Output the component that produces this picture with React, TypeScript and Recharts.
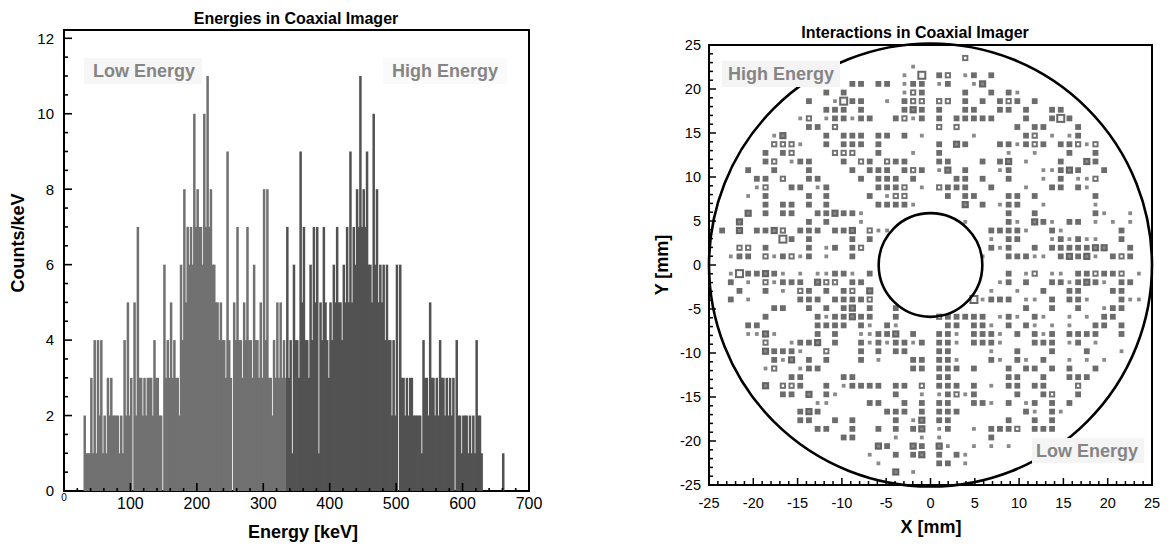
import React from 'react';
import {
  BarChart, Bar, XAxis, YAxis, ReferenceArea,
  ScatterChart, Scatter, ReferenceDot,
} from 'recharts';

const FONT = '"Liberation Sans", Arial, Helvetica, sans-serif';

/* ---------------- Left panel: energy histogram ---------------- */
const BIN_START_KEV = 30;
const BIN_WIDTH_KEV = 5;
// tallest count in each 5 keV bin (spikes)
const PEAK_COUNTS = [
  2, 1, 3, 4, 4, 4, 2, 3, 3, 2,
  2, 2, 4, 5, 3, 5, 7, 3, 3, 3,
  3, 4, 3, 2, 6, 4, 5, 4, 3, 6,
  8, 7, 7, 10, 8, 7, 10, 11, 8, 6,
  5, 5, 4, 9, 3, 5, 7, 4, 5, 7,
  4, 6, 4, 5, 8, 8, 3, 4, 5, 5,
  4, 7, 4, 6, 4, 9, 7, 4, 6, 7,
  7, 5, 7, 4, 5, 6, 7, 5, 6, 7,
  9, 7, 8, 11, 8, 9, 6, 10, 8, 6,
  6, 6, 4, 4, 6, 6, 3, 3, 3, 2,
  2, 2, 4, 3, 5, 3, 3, 4, 3, 3,
  3, 3, 4, 2, 2, 2, 2, 2, 4, 2,
  0, 0, 0, 0, 0, 0, 1,
];
// dense fill level in each 5 keV bin
const BASE_COUNTS = [
  1, 1, 1, 1, 2, 1, 1, 2, 2, 2,
  1, 1, 2, 2, 0, 2, 3, 2, 2, 3,
  2, 3, 2, 0, 3, 3, 3, 3, 2, 4,
  5, 6, 6, 7, 7, 6, 7, 7, 6, 5,
  4, 4, 3, 4, 0, 4, 4, 3, 4, 4,
  3, 4, 3, 3, 4, 3, 2, 3, 3, 3,
  3, 3, 1, 4, 3, 5, 4, 3, 4, 5,
  1, 4, 5, 3, 4, 5, 5, 4, 5, 5,
  5, 6, 7, 7, 7, 6, 5, 6, 5, 5,
  4, 4, 2, 2, 0, 3, 2, 2, 3, 2,
  2, 1, 3, 2, 3, 2, 2, 3, 2, 2,
  2, 0, 2, 1, 2, 1, 1, 1, 2, 1,
  0, 0, 0, 0, 0, 0, 0,
];
const ENERGY_TICKS = [
  0, 20, 40, 60, 80, 100, 120, 140, 160, 180, 200, 220, 240, 260, 280, 300,
  320, 340, 360, 380, 400, 420, 440, 460, 480, 500, 520, 540, 560, 580, 600,
  620, 640, 660, 680, 700,
];
const COUNT_TICKS = [
  0, 0.5, 1, 1.5, 2, 2.5, 3, 3.5, 4, 4.5, 5, 5.5, 6, 6.5, 7, 7.5, 8, 8.5,
  9, 9.5, 10, 10.5, 11, 11.5, 12,
];
const ENERGY_MAX = 700;
const COUNT_MAX = 12.22;
const DARK_FROM_KEV = 335;

const histData: { e: number; c: number }[] = [];
PEAK_COUNTS.forEach((p, i) => {
  const s = BIN_START_KEV + i * BIN_WIDTH_KEV;
  histData.push({ e: s + BIN_WIDTH_KEV / 4, c: p });
  histData.push({ e: s + (3 * BIN_WIDTH_KEV) / 4, c: Math.min(BASE_COUNTS[i], p) });
});

const renderHistBar = (props: any) => {
  const { x, y, width, height, payload } = props;
  if (!height || height <= 0) return <g />;
  const w = 2.5;
  const cx = x + width / 2;
  const fill = payload && payload.e < DARK_FROM_KEV ? '#717171' : '#525252';
  return <rect x={cx - w / 2} y={y} width={w} height={height} fill={fill} />;
};

/* ---------------- Right panel: interaction map ---------------- */
const PIXEL_PITCH_MM = 0.98;
const ROW_INDEX = [
  24, 23, 22, 21, 20, 19, 18, 17, 16, 15, 14, 13, 12, 11, 10, 9, 8, 7, 6, 5, 4, 3, 2, 1, 0,
  -1, -2, -3, -4, -5, -6, -7, -8, -9, -10, -11, -12, -13, -14, -15, -16, -17, -18, -19,
  -20, -21, -22, -23, -24,
];
// column index + kind (s small, m medium, L large, o hollow, O large hollow)
const ROW_CELLS = [
  '4o',
  '-2s',
  '-3s -1O 1m 2o 4s 5m 7m',
  '-9m -8m -6m -5m -3s -2m -1m 1s 2m 5s 6L',
  '-12m -10m -3s -2o -1m 4m 7m 9m 10s',
  '-14m -11s -10O -9m -8m -5s -3m -2o -1o 1o 2o 4m 6m 8m 9o 10m 12m',
  '-12m -11m -10m -8m -3m -2L -1m 1m 4m 5m 8m 9m 11m 14m 15m',
  '-15s -14o -12s -11m -10m -9s -8m -7m -4m -3o -2s -1m 1m 3m 4m 5m 6m 7m 11m 14m 15O 16m',
  '-14m -13m -11o 1o 3o 10m 12m 13m 17m',
  '-18s -17L -12m -10m -9m -8m -6m -5m -3m -1s 5s 11m 12o 14s 16s 17m',
  '-18o -17o -16o -15s -12m -10m -9m -8m -6m 1m 3L 4m 8m 9m 10s 11m 12o 13m 15m 16m 17o 18s 19o',
  '-19m -17m -16o -11o -10o -9o -6m -2s 1m 9s 12s 16m 19m',
  '-19m -18o -16s -15m -14m -10m -8o -7m -5o -4m -3m 1m 2m 6m 8m 9L 11s 15m 18L 19m',
  '-21m -18m -14m -9m -7m -6m -5m -3m -2o -1m 1s 2L 4m 8s 9m 13s 14s 15m 16L 17m 20m',
  '-20m -19m -17o -14m -13m -8m -6m -5m -4m -2m 3m 4m 6m 9m 13s 15m 17s 18s 19o',
  '-20s -19o -16m -15m -13s -12m -6m -5m -4m -3o -1s 1o 2m 3m 4m 7m 11s 14m 15m 17m 18s',
  '-21s -19m -14m -12m -7m -5s -4o -3o 2m 4m 5m 9m 10m 12m 19m',
  '-19m -17m -16m -14m -12m -6m -5m -4m -3m -2s 4L 6m 8s 9m 10m 13s 19s',
  '-21L -19m -17m -16m -13m -12m -11L -10m -9m -8s 9m 12m 19m 20s 23s',
  '-22L -14m -12m -8s 4s 9m 10s 12L 13m 14s 16m 17m 19s 21s 23s',
  '-24m -22L -20m -19m -18L -17o -15m -14m -13m -11m -10m -9L -7o -6s -5s 7m 8m 9m 10m 11s 14m 15s 22m',
  '-17O -16m -14m -9m -7m 7s 9m 10m 14s 15m 16s 17m 18s 19s 22m',
  '-22o -21o -19m -14m -12s -11m -9m -8o 7m 8s 9m 12m 14m 15m 16m 17m 18m 19L 20L 23m',
  '-23s -22m -21m -19o -18s -17m -16o -15s -14m -12s -9m 6s 9m 10m 11m 12s 13s 15m 16L 17m 18L 19s 21m 22o 23m',
  '',
  '-23s -22O -21m -20m -19L -18m -17s -15s -13s -12s -11m -10m -9s -7m 9m 11s 12o 14s 15s 17m 18m 19o 20m 21m 22o 24s',
  '-23m -21s -19o -18s -17m -16m -15m -13L -12o -11o -9m -8m 8s 9m 11m 14m 15m 16s 17m 18L 19m 20s 22m 23m',
  '-22m -19m -17s -15o -14m -12m -10m -9o -7L 7s 10s 13m 16m 17m 21m 22m',
  '-23m -21s -15m -14m -13m -11m -10m -9m -8m -7o 5O 6s 7m 8m 9m 11s 12s 14m 16m 17m 18s 22m 23s 24s',
  '-18m -17m -14m -12m -10m -9L -7m -4m 11m 14m 17m 20s 21m 22m',
  '-19m -13m -12s -11m -10m -9L -8m -7m -4m 1o 2m 3m 4m 5m 6m 8s 9m 10s 12m 13s 16s 18s 20m 21m',
  '-21m -20m -13m -12m -11m -10m -8m -7s -5m -4s 2m 3m 5m 6m 7s 9m 11m 12s 14s 16s 19m 20m 22m',
  '-21s -20s -19L -18s -13m -11m -8s -7s -6m -5m -4L -2m 1m 2m 3s 5m 6m 7m 8s 10m 12m 13s 14m 16m 17m 18m 19m 22m',
  '-19o -16s -15m -14m -13L -11m -8m -7s -6m -5s -4m -3m -2s -1m 1m 2m 3s 5m 6m 7m 8s 12m 13m 14m 16s 17m 19s',
  '-19L -18m -17m -16m -15s -12o -8m -6m -4m -3m 1m 2m 7s 10m 14m 18m 22s',
  '-18m -17s -16L -14m -12m -8m -6s -2m -1m 1m 2m 3s 7m 8s 10m 11s 13m 16s 18s 20s',
  '-19s -18o -15s -14m -13m -2m -1m 1m 2m 3m 5m 9m 11m 12m 14m 16m 19m',
  '-16m -15m -10m -9m 1m 2m 9m 10m 13m 16m 17m 18m',
  '-19L -17o -16o -15m -12m -10s -9m -8m -7m -6m -4m -3m -1o 1m 2m 3m 5m 7s 9m 10m 12m 13m 17o',
  '-17m -16m -14L -12m -11s -4m -1s 1s 2m 3o 4s 5m 10m 13m 14o 17m',
  '-13s -12s -7m -6m -3m -1m 1m 2m 5m 6m 7s 9m 11s 12m 14m 16m',
  '-15m -14L -13m -5m -4m -3m -1m 1m 2m 3m 11m 12s 14m 15s',
  '-15m -14m -11m -9m -4m -2s -1L 1m 2m 9m 12m 14m',
  '-13m -12m -9m -6m -4m -2m -1L 1s 2m 5s 7m 8m 9m 10o 12m 13m 14m',
  '-10m -9m -4s -1s 1s 7m',
  '-6L -5m -2L -1m 1L 2s 5s 7s 9s',
  '-7s -4m -2m -1L 1m 3m 4s',
  '-6s 1m 2m 4s',
  '-4L -2s',
];
const MM_TICKS = [
  -25, -24, -23, -22, -21, -20, -19, -18, -17, -16, -15, -14, -13, -12, -11, -10,
  -9, -8, -7, -6, -5, -4, -3, -2, -1, 0, 1, 2, 3, 4, 5, 6, 7, 8, 9, 10, 11, 12,
  13, 14, 15, 16, 17, 18, 19, 20, 21, 22, 23, 24, 25,
];
const OUTER_RADIUS_MM = 25;
const INNER_RADIUS_MM = 5.85;
const KINDS = ['s', 'm', 'L', 'o', 'O'];

type Pt = { x: number; y: number; kind: string };
const points: Pt[] = [];
ROW_CELLS.forEach((row, ri) => {
  row.split(' ').filter(Boolean).forEach((tok) => {
    const kind = tok.slice(-1);
    const col = parseInt(tok.slice(0, -1), 10);
    points.push({ x: col * PIXEL_PITCH_MM, y: ROW_INDEX[ri] * PIXEL_PITCH_MM, kind });
  });
});

const SQUARE_STYLE: Record<string, { size: number; fill: string; inner?: number; innerFill?: string }> = {
  s: { size: 3.8, fill: '#8a8a8a' },
  m: { size: 5.8, fill: '#6c6c6c' },
  L: { size: 7.2, fill: '#646464', inner: 3, innerFill: '#888888' },
  o: { size: 6.2, fill: '#717171', inner: 2.4, innerFill: '#ffffff' },
  O: { size: 9, fill: '#686868', inner: 5, innerFill: '#f4f4f4' },
};

const makeSquare = (kind: string) => (props: any) => {
  const { cx, cy } = props;
  const st = SQUARE_STYLE[kind];
  if (cx == null || cy == null) return <g />;
  return (
    <g>
      <rect x={cx - st.size / 2} y={cy - st.size / 2} width={st.size} height={st.size} fill={st.fill} />
      {st.inner ? (
        <rect x={cx - st.inner / 2} y={cy - st.inner / 2} width={st.inner} height={st.inner} fill={st.innerFill} />
      ) : null}
    </g>
  );
};

/* ---------------- tick renderers ---------------- */
const renderEnergyTick = (props: any) => {
  const { x, y, payload } = props;
  const v = payload.value;
  const major = v % 100 === 0;
  return (
    <g>
      <line x1={x} x2={x} y1={y} y2={y - (major ? 8 : 3)} stroke="#000" strokeWidth={1.6} />
      {major && v !== 0 ? (
        <text x={x} y={y + 18} textAnchor="middle" fontSize={16} fontFamily={FONT} fill="#000">{v}</text>
      ) : null}
      {v === 0 ? (
        <text x={x} y={y + 10} textAnchor="middle" fontSize={10} fontFamily={FONT} fill="#000">0</text>
      ) : null}
    </g>
  );
};

const renderCountTick = (props: any) => {
  const { x, y, payload } = props;
  const v = payload.value;
  const major = v % 2 === 0;
  return (
    <g>
      <line x1={x} x2={x + (major ? 8 : 4)} y1={y} y2={y} stroke="#000" strokeWidth={1.6} />
      {major ? (
        <text x={x - 10} y={y} dy="0.36em" textAnchor="end" fontSize={15} fontFamily={FONT} fill="#000">{v}</text>
      ) : null}
    </g>
  );
};

const renderMmXTick = (props: any) => {
  const { x, y, payload } = props;
  const v = payload.value;
  const major = v % 5 === 0;
  return (
    <g>
      <line x1={x} x2={x} y1={y} y2={y - (major ? 7 : 4)} stroke="#000" strokeWidth={1.5} />
      {major ? (
        <text x={x} y={y + 23} textAnchor="middle" fontSize={14.5} fontFamily={FONT} fill="#000">{v}</text>
      ) : null}
    </g>
  );
};

const renderMmYTick = (props: any) => {
  const { x, y, payload } = props;
  const v = payload.value;
  const major = v % 5 === 0;
  return (
    <g>
      <line x1={x} x2={x + (major ? 7 : 4)} y1={y} y2={y} stroke="#000" strokeWidth={1.5} />
      {major ? (
        <text x={x - 8} y={y} dy="0.36em" textAnchor="end" fontSize={14.5} fontFamily={FONT} fill="#000">{v}</text>
      ) : null}
    </g>
  );
};

export default function App() {
  return (
    <div style={{ position: 'absolute', left: 0, top: 0, width: 1175, height: 550, background: '#fff', overflow: 'hidden', fontFamily: FONT }}>
      <div style={{ position: 'absolute', left: 0, top: 0 }}>
        <BarChart
          width={560}
          height={550}
          data={histData}
          margin={{ top: 30, right: 31, bottom: 0, left: 0 }}
          barCategoryGap={0}
          barGap={0}
        >
          <XAxis
            type="number"
            dataKey="e"
            domain={[0, ENERGY_MAX]}
            ticks={ENERGY_TICKS}
            interval={0}
            height={59}
            tickSize={0}
            tickMargin={0}
            axisLine={false}
            tickLine={false}
            tick={renderEnergyTick}
            allowDataOverflow
          />
          <YAxis
            type="number"
            domain={[0, COUNT_MAX]}
            ticks={COUNT_TICKS}
            interval={0}
            width={64}
            tickSize={0}
            tickMargin={0}
            axisLine={false}
            tickLine={false}
            tick={renderCountTick}
            allowDataOverflow
          />
          <Bar dataKey="c" barSize={1.6} shape={renderHistBar} isAnimationActive={false} />
          <ReferenceArea x1={0} x2={ENERGY_MAX} y1={0} y2={COUNT_MAX} fill="none" stroke="#000" strokeWidth={2} ifOverflow="visible" />
        </BarChart>
      </div>

      <div style={{ position: 'absolute', left: 600, top: 0 }}>
        <ScatterChart width={575} height={550} margin={{ top: 45, right: 23, bottom: 0, left: 0 }}>
          <XAxis
            type="number"
            dataKey="x"
            domain={[-25, 25]}
            ticks={MM_TICKS}
            interval={0}
            height={65}
            tickSize={0}
            tickMargin={0}
            axisLine={false}
            tickLine={false}
            tick={renderMmXTick}
            allowDataOverflow
          />
          <YAxis
            type="number"
            dataKey="y"
            domain={[-25, 25]}
            ticks={MM_TICKS}
            interval={0}
            width={109}
            tickSize={0}
            tickMargin={0}
            axisLine={false}
            tickLine={false}
            tick={renderMmYTick}
            allowDataOverflow
          />
          {KINDS.map((k) => (
            <Scatter
              key={k}
              data={points.filter((p) => p.kind === k)}
              shape={makeSquare(k)}
              isAnimationActive={false}
            />
          ))}
          <ReferenceDot x={0} y={0} r={OUTER_RADIUS_MM * 443 / 50} fill="none" stroke="#000" strokeWidth={2.6} ifOverflow="visible" />
          <ReferenceDot x={0} y={0} r={INNER_RADIUS_MM * 443 / 50} fill="none" stroke="#000" strokeWidth={2.6} ifOverflow="visible" />
          <ReferenceArea x1={-25} x2={25} y1={-25} y2={25} fill="none" stroke="#000" strokeWidth={2} ifOverflow="visible" />
        </ScatterChart>
      </div>

      <svg width={1175} height={550} style={{ position: 'absolute', left: 0, top: 0, pointerEvents: 'none' }}>
        <g fontFamily={FONT} fontWeight="bold">
          <text x={296} y={24} textAnchor="middle" fontSize={16} fill="#000">Energies in Coaxial Imager</text>
          <text x={915} y={38} textAnchor="middle" fontSize={16} fill="#000">Interactions in Coaxial Imager</text>
          <text transform="translate(24,243) rotate(-90)" textAnchor="middle" fontSize={18} fill="#000">Counts/keV</text>
          <text x={303} y={538} textAnchor="middle" fontSize={18} fill="#000">Energy [keV]</text>
          <text transform="translate(668,265) rotate(-90)" textAnchor="middle" fontSize={18} fill="#000">Y [mm]</text>
          <text x={931} y={533} textAnchor="middle" fontSize={18} fill="#000">X [mm]</text>

          <rect x={84} y={58} width={118} height={26} fill="#f6f6f6" />
          <text x={144} y={77} textAnchor="middle" fontSize={18} fill="#858585">Low Energy</text>
          <rect x={383} y={58} width={124} height={26} fill="#f6f6f6" opacity={0.6} />
          <text x={445} y={77} textAnchor="middle" fontSize={18} fill="#858585">High Energy</text>

          <rect x={722} y={61} width={118} height={26} fill="#f4f4f4" />
          <text x={781} y={80} textAnchor="middle" fontSize={18} fill="#858585">High Energy</text>
          <rect x={1032} y={438} width={112} height={25} fill="#f4f4f4" />
          <text x={1087} y={457} textAnchor="middle" fontSize={18} fill="#858585">Low Energy</text>
        </g>
      </svg>
    </div>
  );
}
